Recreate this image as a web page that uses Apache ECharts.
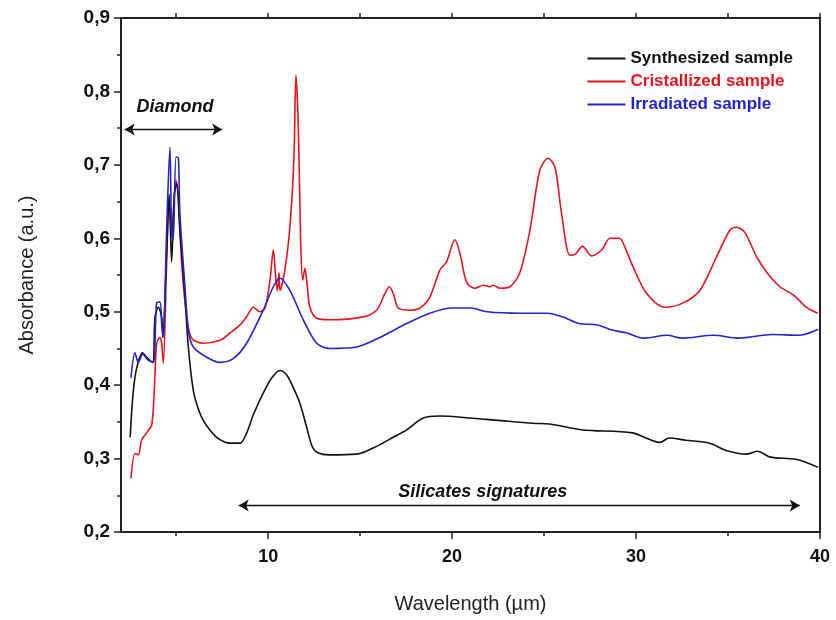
<!DOCTYPE html>
<html>
<head>
<meta charset="utf-8">
<script src="https://cdn.jsdelivr.net/npm/echarts@6/dist/echarts.min.js"></script>
<style>
  html, body { margin: 0; padding: 0; background: #fff; }
  #chart { width: 836px; height: 620px; }
</style>
</head>
<body>
<div id="chart"></div>
<script>
// wavelength (µm) / absorbance
const synthX = [2.5, 2.76, 3.18, 3.4, 3.72, 3.85, 4.03, 4.21, 4.27, 4.48, 4.62, 4.75, 4.9, 5.03, 5.2, 5.48, 5.66, 5.93, 6.2, 6.47, 6.8, 7.2, 7.6, 7.92, 8.47, 8.8, 9.2, 9.73, 10.2, 10.64, 11.0, 11.36, 11.73, 12.09, 12.4, 12.7, 13.3, 14.8, 16.0, 16.8, 17.53, 18.4, 19.3, 21.1, 22.5, 24.4, 25.3, 27.1, 29.8, 31.3, 31.8, 32.7, 34.0, 34.9, 36.0, 36.6, 37.3, 38.7, 39.9];
const synthY = [0.329, 0.411, 0.444, 0.438, 0.431, 0.493, 0.506, 0.493, 0.465, 0.58, 0.66, 0.568, 0.66, 0.675, 0.611, 0.52, 0.452, 0.393, 0.368, 0.352, 0.34, 0.329, 0.323, 0.321, 0.321, 0.333, 0.36, 0.389, 0.41, 0.42, 0.414, 0.397, 0.375, 0.343, 0.316, 0.308, 0.305, 0.306, 0.318, 0.329, 0.339, 0.355, 0.358, 0.355, 0.352, 0.348, 0.347, 0.339, 0.335, 0.322, 0.328, 0.325, 0.321, 0.311, 0.306, 0.31, 0.302, 0.299, 0.288];

const crystX = [2.54, 2.76, 2.94, 3.12, 3.39, 3.67, 3.81, 3.94, 4.12, 4.21, 4.3, 4.48, 4.62, 4.75, 4.99, 5.12, 5.3, 5.57, 5.84, 6.47, 7.38, 7.92, 8.47, 8.83, 9.19, 9.55, 9.83, 10.1, 10.28, 10.42, 10.5, 10.59, 10.64, 10.91, 11.18, 11.4, 11.51, 11.64, 11.77, 11.88, 12.0, 12.13, 12.27, 12.64, 13.36, 15.17, 15.89, 16.35, 16.59, 16.8, 17.07, 17.7, 18.25, 18.79, 19.34, 19.7, 20.15, 20.42, 20.79, 21.24, 21.7, 22.05, 22.23, 22.6, 23.14, 23.68, 24.23, 24.77, 25.22, 25.59, 25.95, 26.4, 26.67, 27.09, 27.58, 28.13, 28.58, 29.03, 29.21, 29.84, 30.57, 31.57, 32.56, 33.47, 34.38, 35.1, 35.46, 35.91, 36.55, 37.09, 37.82, 38.54, 39.27, 39.88];
const crystY = [0.273, 0.307, 0.305, 0.325, 0.335, 0.346, 0.393, 0.457, 0.465, 0.457, 0.43, 0.566, 0.656, 0.602, 0.679, 0.656, 0.566, 0.493, 0.464, 0.457, 0.461, 0.471, 0.482, 0.493, 0.506, 0.5, 0.505, 0.543, 0.584, 0.543, 0.529, 0.553, 0.529, 0.557, 0.615, 0.707, 0.822, 0.752, 0.593, 0.543, 0.559, 0.534, 0.506, 0.491, 0.489, 0.493, 0.502, 0.525, 0.534, 0.525, 0.505, 0.502, 0.505, 0.52, 0.557, 0.568, 0.598, 0.58, 0.54, 0.532, 0.536, 0.534, 0.536, 0.532, 0.534, 0.553, 0.611, 0.693, 0.709, 0.697, 0.634, 0.577, 0.578, 0.589, 0.576, 0.584, 0.6, 0.6, 0.598, 0.561, 0.525, 0.506, 0.512, 0.529, 0.575, 0.611, 0.615, 0.608, 0.575, 0.554, 0.534, 0.523, 0.506, 0.498];

const irradX = [2.54, 2.76, 2.94, 3.18, 3.48, 3.76, 3.94, 4.12, 4.21, 4.3, 4.48, 4.66, 4.75, 4.84, 4.99, 5.12, 5.2, 5.48, 5.66, 5.93, 6.66, 7.38, 8.1, 8.83, 9.73, 10.28, 10.64, 11.18, 11.91, 12.64, 13.36, 14.81, 16.08, 17.53, 18.79, 20.0, 21.0, 21.9, 23.7, 25.2, 26.0, 26.9, 27.9, 28.7, 29.5, 30.4, 31.7, 32.5, 34.2, 35.6, 37.4, 38.9, 39.9];
const irradY = [0.41, 0.444, 0.431, 0.442, 0.434, 0.431, 0.512, 0.513, 0.484, 0.465, 0.611, 0.724, 0.611, 0.598, 0.711, 0.709, 0.634, 0.533, 0.475, 0.452, 0.438, 0.431, 0.436, 0.457, 0.502, 0.534, 0.546, 0.529, 0.489, 0.457, 0.45, 0.452, 0.465, 0.484, 0.498, 0.505, 0.505, 0.5, 0.498, 0.498, 0.493, 0.484, 0.482, 0.475, 0.471, 0.464, 0.468, 0.464, 0.468, 0.464, 0.469, 0.468, 0.476];

const majorX = [10, 20, 30, 40];
const minorX = [5, 15, 25, 35];
const allX = [5, 10, 15, 20, 25, 30, 35, 40];

// annotation arrows [x start, x end, y] and their captions [x, y]
const diamondRange = [2.2, 7.5, 0.748];
const silicateRange = [8.4, 38.9, 0.236];
const diamondText = [4.93, 0.779];
const silicateText = [21.67, 0.254];

const zip = (xs, ys) => xs.map((x, i) => [x, ys[i]]);

const chart = echarts.init(document.getElementById('chart'));

const labelFont = { fontFamily: 'Liberation Sans, Arial', fontWeight: 'bold', fontSize: 18, color: '#111' };
const noteFont = { fontFamily: 'Liberation Sans, Arial', fontStyle: 'italic', fontWeight: 'bold', fontSize: 18, color: '#111' };

const option = {
    animation: false,
    backgroundColor: '#fff',
    grid: { left: 121, right: 16, top: 18, bottom: 88 },
    legend: {
        orient: 'vertical',
        right: 38,
        top: 45,
        icon: 'rect',
        itemWidth: 38,
        itemHeight: 2,
        itemGap: 6,
        textStyle: { fontFamily: 'Liberation Sans, Arial', fontWeight: 'bold', fontSize: 17 },
        data: [
            { name: 'Synthesized sample', textStyle: { color: '#111' } },
            { name: 'Cristallized sample', textStyle: { color: '#e8141b' } },
            { name: 'Irradiated sample', textStyle: { color: '#2323d2' } }
        ]
    },
    xAxis: [
        {
            type: 'value', min: 2, max: 40, position: 'bottom',
            name: 'Wavelength (µm)', nameLocation: 'middle', nameGap: 62,
            nameTextStyle: { fontFamily: 'Liberation Sans, Arial', fontSize: 20, color: '#222' },
            axisLine: { show: true, lineStyle: { color: '#222', width: 2 } },
            axisTick: { show: true, inside: false, length: 7, customValues: majorX, lineStyle: { color: '#222', width: 1.5 } },
            axisLabel: Object.assign({ margin: 16, customValues: majorX }, labelFont),
            splitLine: { show: false }
        },
        {
            type: 'value', min: 2, max: 40, position: 'bottom', gridIndex: 0,
            axisLine: { show: false },
            axisTick: { show: true, length: 4, customValues: minorX, lineStyle: { color: '#222', width: 1.5 } },
            axisLabel: { show: false },
            splitLine: { show: false }
        },
        {
            type: 'value', min: 2, max: 40, position: 'top',
            axisLine: { show: true, lineStyle: { color: '#222', width: 2 } },
            axisTick: { show: true, length: 5, customValues: allX, lineStyle: { color: '#222', width: 1.5 } },
            axisLabel: { show: false },
            splitLine: { show: false }
        }
    ],
    yAxis: [
        {
            type: 'value', min: 0.2, max: 0.9, interval: 0.1, position: 'left',
            name: 'Absorbance (a.u.)', nameLocation: 'middle', nameGap: 84,
            nameTextStyle: { fontFamily: 'Liberation Sans, Arial', fontSize: 20, color: '#222' },
            axisLine: { show: true, lineStyle: { color: '#222', width: 2 } },
            axisTick: { show: true, length: 7, lineStyle: { color: '#222', width: 1.5 } },
            minorTick: { show: true, splitNumber: 2, length: 4, lineStyle: { color: '#222', width: 1.5 } },
            axisLabel: Object.assign({
                margin: 11,
                formatter: v => v.toFixed(1).replace('.', ',')
            }, labelFont, { fontSize: 19 }),
            splitLine: { show: false }
        },
        {
            type: 'value', min: 0.2, max: 0.9, interval: 0.1, position: 'right',
            axisLine: { show: true, lineStyle: { color: '#222', width: 2 } },
            axisTick: { show: false },
            axisLabel: { show: false },
            splitLine: { show: false }
        }
    ],
    series: [
        {
            name: 'Synthesized sample', type: 'line', symbol: 'none', smooth: 0.3,
            data: zip(synthX, synthY),
            lineStyle: { color: '#111', width: 1.6 }, itemStyle: { color: '#111' },
            z: 3,
            markLine: {
                silent: true,
                symbol: ['arrow', 'arrow'],
                symbolSize: [9, 10],
                lineStyle: { color: '#111', width: 1.3, type: 'solid' },
                label: { show: false },
                data: [
                    [{ coord: [diamondRange[0], diamondRange[2]] }, { coord: [diamondRange[1], diamondRange[2]] }],
                    [{ coord: [silicateRange[0], silicateRange[2]] }, { coord: [silicateRange[1], silicateRange[2]] }]
                ]
            },
            markPoint: {
                silent: true,
                symbol: 'circle',
                symbolSize: 0,
                label: Object.assign({ show: true, position: 'inside' }, noteFont),
                data: [
                    { coord: diamondText, label: { formatter: 'Diamond' } },
                    { coord: silicateText, label: { formatter: 'Silicates signatures' } }
                ]
            }
        },
        {
            name: 'Cristallized sample', type: 'line', symbol: 'none', smooth: 0.3,
            data: zip(crystX, crystY),
            lineStyle: { color: '#e8141b', width: 1.6 }, itemStyle: { color: '#e8141b' },
            z: 2
        },
        {
            name: 'Irradiated sample', type: 'line', symbol: 'none', smooth: 0.3,
            data: zip(irradX, irradY),
            lineStyle: { color: '#2323d2', width: 1.6 }, itemStyle: { color: '#2323d2' },
            z: 4
        }
    ]
};

chart.setOption(option);
</script>
</body>
</html>
